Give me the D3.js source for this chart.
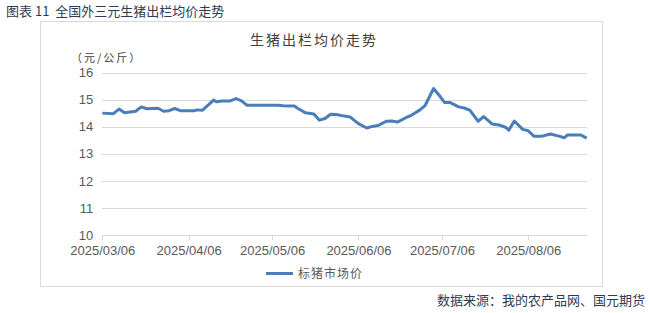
<!DOCTYPE html>
<html>
<head>
<meta charset="utf-8">
<script src="https://cdn.jsdelivr.net/npm/d3@7"></script>
<style>
  html, body { margin: 0; padding: 0; background: #fff; }
  svg { display: block; }
  text { font-family: "Liberation Sans", Arial, "Noto Sans CJK SC", sans-serif; }
  .cjk { font-family: "Noto Sans CJK SC", "Liberation Sans", sans-serif; }
</style>
</head>
<body>
<svg id="chart" width="650" height="313"></svg>
<script>
// Price series: national pig market price (yuan/kg)
const dates = [
  "2025-03-06","2025-03-10","2025-03-12","2025-03-14","2025-03-18","2025-03-20","2025-03-22",
  "2025-03-26","2025-03-28","2025-03-30","2025-04-01","2025-04-03","2025-04-08","2025-04-09",
  "2025-04-11","2025-04-15","2025-04-16","2025-04-18","2025-04-21","2025-04-23","2025-04-25",
  "2025-04-27","2025-05-08","2025-05-10","2025-05-14","2025-05-15","2025-05-17","2025-05-18",
  "2025-05-21","2025-05-23","2025-05-25","2025-05-27","2025-05-29","2025-06-01","2025-06-03",
  "2025-06-06","2025-06-09","2025-06-11","2025-06-13","2025-06-16","2025-06-18","2025-06-20",
  "2025-06-23","2025-06-25","2025-06-28","2025-06-30","2025-07-03","2025-07-05","2025-07-07",
  "2025-07-09","2025-07-12","2025-07-14","2025-07-16","2025-07-19","2025-07-21","2025-07-24",
  "2025-07-27","2025-07-29","2025-07-30","2025-08-01","2025-08-04","2025-08-06","2025-08-08",
  "2025-08-11","2025-08-14","2025-08-17","2025-08-19","2025-08-20","2025-08-25","2025-08-26",
  "2025-08-27"
];
const prices = [
  14.50,14.48,14.65,14.51,14.57,14.73,14.66,
  14.68,14.57,14.59,14.67,14.59,14.59,14.62,
  14.61,14.98,14.92,14.95,14.95,15.04,14.95,
  14.79,14.79,14.77,14.76,14.69,14.57,14.51,
  14.47,14.24,14.30,14.46,14.45,14.39,14.36,
  14.11,13.95,14.01,14.04,14.20,14.21,14.17,
  14.33,14.42,14.61,14.79,15.41,15.16,14.89,
  14.89,14.73,14.69,14.61,14.20,14.37,14.10,
  14.05,13.97,13.87,14.21,13.90,13.85,13.65,
  13.65,13.73,13.65,13.59,13.69,13.69,13.63,
  13.58
];
const xDomain = ["2025-03-06", "2025-08-27"];
const xTicks = ["2025-03-06","2025-04-06","2025-05-06","2025-06-06","2025-07-06","2025-08-06"];
const yTicks = [10, 11, 12, 13, 14, 15, 16];
const seriesName = "标猪市场价";
const chartTitle = "生猪出栏均价走势";
const unitLabel = "（元/公斤）";
const figureCaption = "图表 11  全国外三元生猪出栏均价走势";
const sourceNote = "数据来源：我的农产品网、国元期货";

const parse = d3.timeParse("%Y-%m-%d");
const fmt = d3.timeFormat("%Y/%m/%d");
const data = dates.map((d, i) => ({ date: parse(d), value: prices[i] }));

const svg = d3.select("#chart");

const x = d3.scaleTime().domain(xDomain.map(parse)).range([102.3, 586.7]);
const y = d3.scaleLinear().domain([10, 16]).range([235, 72.5]);

// caption above the frame
svg.append("text").attr("class", "cjk")
  .attr("x", 6).attr("y", 15.5)
  .attr("font-size", 13).attr("fill", "#2e3b52")
  .attr("xml:space", "preserve")
  .text(figureCaption);

// chart frame
svg.append("rect")
  .attr("x", 40.5).attr("y", 21.5).attr("width", 562).attr("height", 265)
  .attr("fill", "#fff").attr("stroke", "#d9d9d9").attr("stroke-width", 1);

// chart title
svg.append("text").attr("class", "cjk")
  .attr("x", 314).attr("y", 45).attr("text-anchor", "middle")
  .attr("font-size", 14).attr("letter-spacing", "2px").attr("fill", "#404040")
  .text(chartTitle);

// unit label
svg.append("text").attr("class", "cjk")
  .attr("x", 71).attr("y", 62)
  .attr("font-size", 11).attr("letter-spacing", "2px").attr("fill", "#404040")
  .text(unitLabel);

// horizontal gridlines
const yAxis = d3.axisLeft(y).tickValues(yTicks).tickSize(-(586.7 - 102.3)).tickPadding(9)
  .tickFormat(d3.format("d"));
const gy = svg.append("g").attr("transform", "translate(102.3,0)").call(yAxis);
gy.select(".domain").remove();
gy.selectAll(".tick line").attr("stroke", "#d9d9d9").attr("stroke-width", 1)
  .attr("shape-rendering", "crispEdges");
gy.selectAll(".tick text").attr("font-size", 13).attr("fill", "#595959")
  .attr("font-family", "'Liberation Sans', Arial, sans-serif");

// x axis
const xAxis = d3.axisBottom(x).tickValues(xTicks.map(parse)).tickSize(5).tickPadding(6)
  .tickFormat(fmt);
const gx = svg.append("g").attr("transform", "translate(0,235)").call(xAxis);
gx.select(".domain").attr("stroke", "#d9d9d9").attr("d", `M102.3,0.5H586.7`)
  .attr("shape-rendering", "crispEdges");
gx.selectAll(".tick line").attr("stroke", "#d9d9d9").attr("shape-rendering", "crispEdges");
gx.selectAll(".tick text").attr("font-size", 13).attr("fill", "#595959")
  .attr("font-family", "'Liberation Sans', Arial, sans-serif");

// price line
const line = d3.line().x(d => x(d.date)).y(d => y(d.value));
svg.append("path").datum(data)
  .attr("d", line)
  .attr("fill", "none").attr("stroke", "#4a7ebb").attr("stroke-width", 3)
  .attr("stroke-linejoin", "round").attr("stroke-linecap", "butt");

// legend
svg.append("line")
  .attr("x1", 266).attr("x2", 293).attr("y1", 273.5).attr("y2", 273.5)
  .attr("stroke", "#4a7ebb").attr("stroke-width", 3);
svg.append("text").attr("class", "cjk")
  .attr("x", 298).attr("y", 278)
  .attr("font-size", 12).attr("letter-spacing", "1px").attr("fill", "#595959")
  .text(seriesName);

// source note
svg.append("text").attr("class", "cjk")
  .attr("x", 645).attr("y", 305).attr("text-anchor", "end")
  .attr("font-size", 13).attr("fill", "#2e3b52")
  .text(sourceNote);
</script>
</body>
</html>
